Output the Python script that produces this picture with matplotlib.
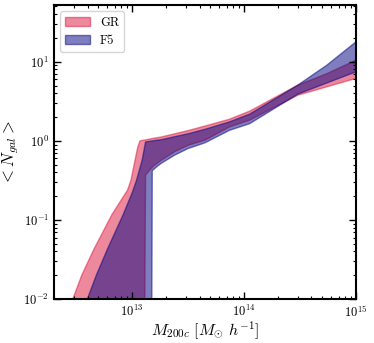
import numpy as np
import matplotlib
matplotlib.use("Agg")
import matplotlib.pyplot as plt

plt.rcParams["font.family"] = "serif"
plt.rcParams["font.serif"] = ["cmr10", "DejaVu Serif"]
plt.rcParams["mathtext.fontset"] = "cm"
plt.rcParams["axes.formatter.use_mathtext"] = True

# halo occupation bands (log10 of halo mass)
gr_logm = [12.30, 12.47, 12.55, 12.66, 12.82, 12.96, 12.99, 13.05, 13.07, 13.10,
           13.12, 13.19, 13.26, 13.38, 13.50, 13.65, 13.87, 14.05, 14.48, 14.74, 15.0]
gr_upper = [0.002, 0.010, 0.020, 0.043, 0.117, 0.24, 0.32, 0.83, 1.0, 1.02,
            1.03, 1.08, 1.12, 1.23, 1.35, 1.54, 1.88, 2.38, 5.07, 7.08, 10.5]
gr_lower = [1e-5, 1e-5, 1e-5, 1e-5, 1e-5, 1e-5, 1e-5, 1e-5, 1e-5, 1e-5,
            0.37, 0.48, 0.57, 0.73, 0.88, 1.02, 1.50, 1.83, 3.78, 4.83, 6.17]

f5_logm = [12.30, 12.60, 12.68, 12.78, 12.92, 13.00, 13.04, 13.09, 13.12, 13.17,
           13.18, 13.22, 13.26, 13.38, 13.50, 13.65, 13.87, 14.05, 14.48, 14.74, 15.0]
f5_upper = [0.0007, 0.010, 0.020, 0.043, 0.117, 0.22, 0.32, 0.575, 0.97, 0.995,
            1.0, 1.02, 1.035, 1.13, 1.23, 1.40, 1.74, 2.18, 5.07, 9.08, 17.9]
f5_lower = [1e-5, 1e-5, 1e-5, 1e-5, 1e-5, 1e-5, 1e-5, 1e-5, 1e-5, 1e-5,
            0.42, 0.47, 0.52, 0.66, 0.80, 0.944, 1.36, 1.65, 3.90, 5.40, 7.46]

fig = plt.figure(figsize=(3.74, 3.43), dpi=100)
ax = fig.add_axes([0.144, 0.128, 0.808, 0.857])

ax.fill_between(10**np.array(gr_logm), gr_lower, gr_upper, color="crimson", alpha=0.5, label="GR")
ax.fill_between(10**np.array(f5_logm), f5_lower, f5_upper, color="navy", alpha=0.5, label="F5")

ax.set_xscale("log")
ax.set_yscale("log")
ax.set_xlim(2e12, 1e15)
ax.set_ylim(1e-2, 52)

ax.tick_params(which="both", direction="in", top=True, right=True, labelsize=9)
ax.tick_params(which="major", length=5, width=1)
ax.tick_params(which="minor", length=2.5, width=0.8)
for s in ax.spines.values():
    s.set_linewidth(1.5)

ax.set_xlabel(r"$M_{200c}\ [M_{\odot}\ h^{-1}]$", fontsize=11.5)
ax.set_ylabel(r"$<N_{gal}>$", fontsize=12)
ax.xaxis.set_label_coords(0.5, -0.068)
ax.yaxis.set_label_coords(-0.11, 0.5)
ax.legend(loc="upper left", fontsize=9)

fig.savefig("out.png", dpi=100)
